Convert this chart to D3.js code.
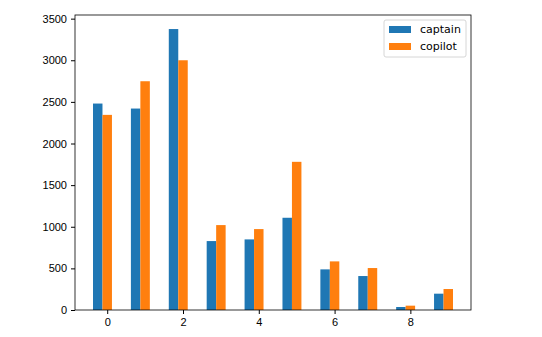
<!DOCTYPE html>
<html>
<head>
<meta charset="utf-8">
<script src="https://cdn.jsdelivr.net/npm/d3@7"></script>
<style>
body { margin: 0; background: #fff; }
</style>
</head>
<body>
<script>
const width = 542
const height = 337
const margin = ({top: 15, right: 71, bottom: 27, left: 75})

const categories = [0, 1, 2, 3, 4, 5, 6, 7, 8, 9]
const captain = [2480, 2420, 3375, 828, 848, 1108, 488, 408, 36, 196]
const copilot = [2344, 2748, 3000, 1020, 972, 1780, 584, 504, 52, 252]
const xTicks = [0, 2, 4, 6, 8]
const yTicks = [0, 500, 1000, 1500, 2000, 2500, 3000, 3500]
const seriesNames = ["captain", "copilot"]
const colors = ["#1f77b4", "#ff7f0e"]

const barW = 0.25

const x = d3.scaleLinear()
    .domain([-0.85, 9.6])
    .range([margin.left, width - margin.right])

const y = d3.scaleLinear()
    .domain([0, 3375 * 1.05])
    .range([height - margin.bottom, margin.top])

const svg = d3.select("body").append("svg").attr("width", width).attr("height", height)
    .attr("font-family", "DejaVu Sans, sans-serif")

const series = [captain, copilot]
series.forEach((vals, s) => {
    svg.append("g")
        .attr("fill", colors[s])
      .selectAll("rect")
      .data(categories)
      .join("rect")
        .attr("x", (d, i) => x(d - 0.25 + s * 0.25 - barW / 2))
        .attr("width", (d, i) => x(barW) - x(0))
        .attr("y", (d, i) => y(vals[i]))
        .attr("height", (d, i) => y(0) - y(vals[i]))
})

let xAxis = g => g
    .attr("transform", `translate(0,${height - margin.bottom})`)
    .call(d3.axisBottom(x).tickValues(xTicks).tickSize(4).tickPadding(4).tickFormat(d3.format("d")))
    .call(g => g.select(".domain").remove())
    .call(g => g.selectAll("text").attr("font-size", 11).attr("fill", "#000"))

let yAxis = g => g
    .attr("transform", `translate(${margin.left},0)`)
    .call(d3.axisLeft(y).tickValues(yTicks).tickSize(4).tickPadding(4).tickFormat(d3.format("d")))
    .call(g => g.select(".domain").remove())
    .call(g => g.selectAll("text").attr("font-size", 11).attr("fill", "#000"))

svg.append("g").call(xAxis)
svg.append("g").call(yAxis)

// frame
svg.append("rect")
    .attr("x", margin.left)
    .attr("y", margin.top)
    .attr("width", width - margin.right - margin.left)
    .attr("height", height - margin.bottom - margin.top)
    .attr("fill", "none")
    .attr("stroke", "#000")
    .attr("stroke-width", 0.8)

// legend
const legend = svg.append("g").attr("transform", "translate(384,20)")
legend.append("rect")
    .attr("width", 82).attr("height", 37).attr("rx", 2)
    .attr("fill", "#fff").attr("fill-opacity", 0.8)
    .attr("stroke", "#ccc").attr("stroke-width", 0.8)
seriesNames.forEach((name, i) => {
    legend.append("rect")
        .attr("x", 5).attr("y", 6 + i * 17)
        .attr("width", 22).attr("height", 7)
        .attr("fill", colors[i])
    legend.append("text")
        .attr("x", 36).attr("y", 9.5 + i * 17)
        .attr("dy", "0.35em")
        .attr("font-size", 11)
        .text(name)
})
</script>
</body>
</html>
